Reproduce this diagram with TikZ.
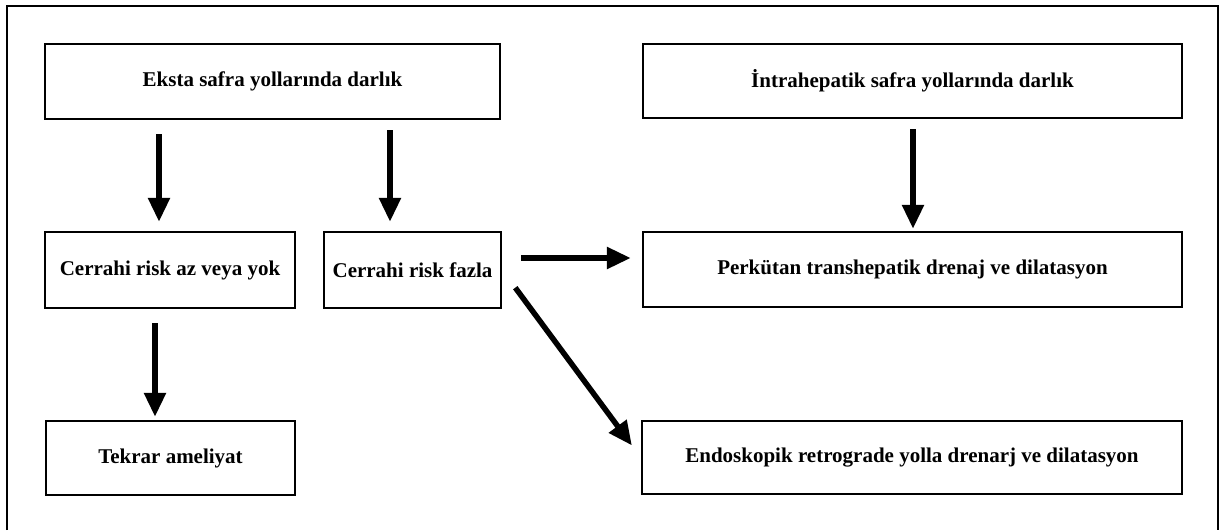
\documentclass[tikz,border=0pt]{standalone}
\usepackage{fontspec}
\setmainfont{Liberation Serif}
\usetikzlibrary{arrows.meta}
\tikzset{
  box/.style={draw=black, line width=2.4pt, fill=white, inner sep=0pt, align=center,
    font=\fontsize{21}{25}\selectfont\bfseries},
  arr/.style={line width=5.5pt, -{Triangle[length=24pt,width=21pt]}},
  frame/.style={line width=2.8pt}
}
\begin{document}
\begin{tikzpicture}[x=1pt,y=-1pt]
\useasboundingbox (0,0) rectangle (1220,530);
\draw[frame] (7,530) -- (7,6) -- (1218,6) -- (1218,530);
% boxes
\node[box, minimum width=455pt, minimum height=75pt] (eksta) at (272.5,81.5) {Eksta safra yollarında darlık};
\node[box, minimum width=539pt, minimum height=74pt] (intra) at (912.5,81) {İntrahepatik safra yollarında darlık};
\node[box, minimum width=250pt, minimum height=76pt] (caz) at (170,270) {Cerrahi risk az veya yok};
\node[box, minimum width=177pt, minimum height=76pt] (cfazla) at (412.5,270) {Cerrahi risk fazla};
\node[box, minimum width=539pt, minimum height=75pt] (perk) at (912.5,269.5) {Perkütan transhepatik drenaj ve dilatasyon};
\node[box, minimum width=249pt, minimum height=74pt] (tekrar) at (170.5,458) {Tekrar ameliyat};
\node[box, minimum width=540pt, minimum height=73pt] (endo) at (912,457.5) {Endoskopik retrograde yolla drenarj ve dilatasyon};
% helper coordinates for arrow positions
\coordinate (a1) at (159,0);
\coordinate (a2) at (390,0);
\coordinate (a3) at (913,0);
\coordinate (a4) at (155,0);
\coordinate (h) at (0,258);
% connectors
\draw[arr, shorten <=14pt, shorten >=9pt] (eksta.south -| a1) -- (caz.north -| a1);
\draw[arr, shorten <=10pt, shorten >=9pt] (eksta.south -| a2) -- (cfazla.north -| a2);
\draw[arr, shorten <=10pt, shorten >=2pt] (intra.south -| a3) -- (perk.north -| a3);
\draw[arr, shorten <=14pt, shorten >=3pt] (caz.south -| a4) -- (tekrar.north -| a4);
\draw[arr, shorten <=19pt, shorten >=11pt] (cfazla.east |- h) -- (perk.west |- h);
\draw[arr, shorten <=22pt, shorten >=15pt] (cfazla.east) -- (endo.west);
\end{tikzpicture}
\end{document}
